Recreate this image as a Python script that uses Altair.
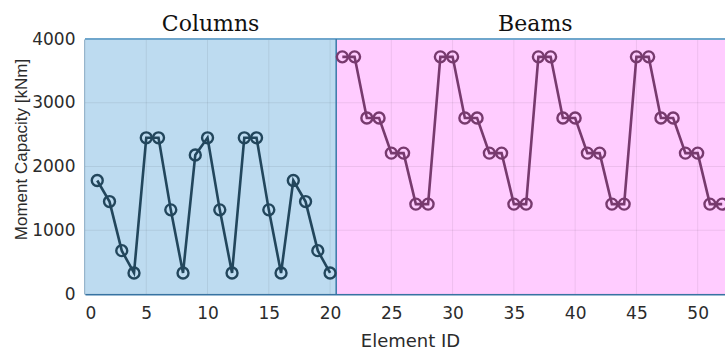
import altair as alt
import pandas as pd

# ---- data ----
column_ids = list(range(1, 21))
column_capacity = [1780, 1450, 680, 330, 2450, 2450, 1320, 330, 2180, 2450,
                   1320, 330, 2450, 2450, 1320, 330, 1780, 1450, 680, 330]
beam_ids = list(range(21, 53))
beam_capacity = [3720, 3720, 2760, 2760, 2210, 2210, 1410, 1410] * 4

region_names = ["Columns", "Beams"]
region_start = [0, 20.5]
region_end = [20.5, 53]
region_fill = ["#BDDBF0", "#FFCCFF"]

x_ticks = [0, 5, 10, 15, 20, 25, 30, 35, 40, 45, 50]
y_ticks = [0, 1000, 2000, 3000, 4000]

series_names = ["Columns", "Beams"]
series_colors = ["#22465C", "#773A6E"]

# ---- tables ----
pts = pd.DataFrame({
    "id": column_ids + beam_ids,
    "cap": column_capacity + beam_capacity,
    "type": ["Columns"] * len(column_ids) + ["Beams"] * len(beam_ids),
})
regions = pd.DataFrame({
    "name": region_names, "x0": region_start, "x1": region_end,
    "mid": [(a + b) / 2 for a, b in zip(region_start, region_end)],
    "top": [4000] * len(region_names), "bottom": [0] * len(region_names),
})

XDOM = [0, 52.23]
xs = alt.Scale(domain=XDOM, nice=False, zero=False)
ys = alt.Scale(domain=[0, 4000], nice=False)
col = alt.Color("type:N", scale=alt.Scale(domain=series_names, range=series_colors), legend=None)

bg = alt.Chart(regions).mark_rect(clip=True).encode(
    x=alt.X("x0:Q", scale=xs,
            axis=alt.Axis(values=x_ticks, title="Element ID", grid=False,
                          domainColor="#3A78A8", domainWidth=2, tickSize=0,
                          labelPadding=11, labelFontSize=17, labelColor="#2B2B2B",
                          labelFont="DejaVu Sans", titleFont="DejaVu Sans",
                          titleFontSize=18, titleFontWeight="normal", titleColor="#2B2B2B",
                          titleX=325, titleY=38)),
    x2="x1:Q",
    y=alt.Y("bottom:Q", scale=ys,
            axis=alt.Axis(values=y_ticks, format="d", title="Moment Capacity [kNm]", grid=False,
                          domainColor="#3A78A8", domainWidth=2, tickSize=0,
                          labelPadding=10, labelFontSize=17, labelColor="#2B2B2B",
                          labelFont="DejaVu Sans", titleFont="Liberation Sans",
                          titleFontSize=17, titleFontWeight="normal", titleColor="#2B2B2B",
                          titleX=-55, titleY=110)),
    y2="top:Q",
    color=alt.Color("name:N", scale=alt.Scale(domain=region_names, range=region_fill), legend=None),
)

grid_x = alt.Chart(pd.DataFrame({"v": x_ticks})).mark_rule(color="#000000", opacity=0.07, strokeWidth=1).encode(
    x=alt.X("v:Q", scale=xs))
grid_y = alt.Chart(pd.DataFrame({"v": y_ticks})).mark_rule(color="#000000", opacity=0.07, strokeWidth=1).encode(
    y=alt.Y("v:Q", scale=ys))

top_border = alt.Chart(regions.head(1)).mark_rule(color="#6FA6CC", strokeWidth=2).encode(
    y=alt.Y("top:Q", scale=ys), x=alt.value(0), x2=alt.value(640))
divider = alt.Chart(regions.tail(1)).mark_rule(color="#3A78A8", strokeWidth=1.5).encode(
    x=alt.X("x0:Q", scale=xs), y=alt.value(0), y2=alt.value(255))

line = alt.Chart(pts).mark_line(strokeWidth=2.6, clip=True).encode(
    x=alt.X("id:Q", scale=xs), y=alt.Y("cap:Q", scale=ys), color=col, detail="type:N")
points = alt.Chart(pts).mark_point(filled=False, size=120, strokeWidth=2.4, opacity=1).encode(
    x=alt.X("id:Q", scale=xs), y=alt.Y("cap:Q", scale=ys), color=col)

titles = alt.Chart(regions).mark_text(font="DejaVu Serif", fontSize=22, color="#111111",
                                      baseline="alphabetic", align="center").encode(
    x=alt.X("mid:Q", scale=xs), y=alt.value(-8), text="name:N")

chart = alt.layer(bg, grid_x, grid_y, top_border, divider, line, points, titles).resolve_scale(
    color="independent"
).properties(
    width=640, height=255,
    autosize=alt.AutoSizeParams(type="none"),
    padding={"left": 85, "top": 39, "right": 0, "bottom": 57},
).configure_view(stroke=None)

chart.save("out.html", embed_options={"renderer": "svg", "actions": False})
